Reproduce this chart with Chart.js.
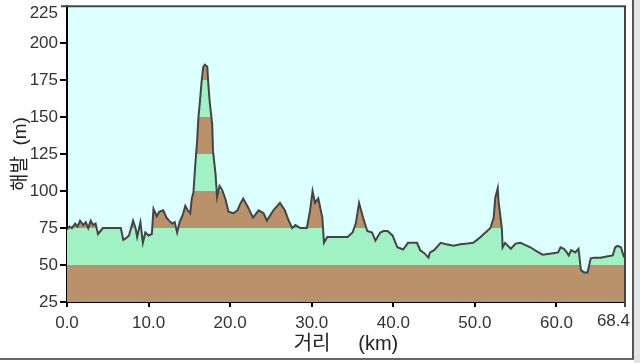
<!DOCTYPE html>
<html>
<head>
<meta charset="utf-8">
<script src="https://cdn.jsdelivr.net/npm/chart.js@4/dist/chart.umd.min.js"></script>
<style>
  body { margin: 0; background: #fff; width: 640px; height: 363px; overflow: hidden; position: relative; }
  .marco { position: absolute; left: 0; top: 0; width: 632px; height: 358px; border-right: 2px solid #555; border-bottom: 2px solid #666; background: #fff; overflow: hidden; }
  .franja { position: absolute; left: 634px; top: 0; width: 6px; height: 363px; background: #e4e4e4; }
  canvas { display: block; margin-top: -6px; }
</style>
</head>
<body>
<div class="marco"><canvas id="perfil" width="632" height="364"></canvas></div>
<div class="franja"></div>
<script>
// distancia (km) y altura (m) del perfil
const distancias = [
  0.0, 0.3, 0.6, 1.0, 1.3, 1.6, 2.0, 2.3, 2.6, 2.9, 3.2, 3.5, 3.8, 4.1, 4.4, 5.0, 5.6, 6.2, 6.6, 6.9,
  7.2, 7.6, 8.1, 8.4, 8.6, 9.0, 9.3, 9.6, 10.0, 10.4, 10.6, 11.0, 11.3, 11.8, 12.2, 12.5, 12.9, 13.2, 13.5, 13.8,
  14.2, 14.5, 14.8, 15.1, 15.3, 15.5, 15.7, 15.95, 16.1, 16.3, 16.5, 16.7, 16.9, 17.2, 17.3, 17.5, 17.8, 17.9, 18.2, 18.4,
  18.7, 19.0, 19.4, 19.8, 20.4, 20.9, 21.2, 21.6, 22.2, 22.8, 23.5, 24.1, 24.5, 25.3, 26.1, 26.7, 27.1, 27.6, 28.0, 28.6,
  29.4, 29.8, 30.1, 30.4, 30.8, 31.3, 31.5, 31.9, 32.6, 33.5, 34.4, 35.0, 35.4, 35.8, 36.3, 36.8, 37.4, 37.8, 38.4, 38.8,
  39.3, 39.9, 40.5, 41.2, 41.8, 42.9, 43.3, 43.8, 44.3, 44.5, 45.0, 45.8, 46.5, 47.4, 48.2, 49.1, 49.8, 50.7, 51.3, 51.9,
  52.3, 52.5, 52.8, 52.9, 53.3, 53.4, 53.7, 54.4, 55.0, 55.6, 56.2, 56.8, 57.5, 58.3, 59.6, 60.2, 60.5, 60.9, 61.2, 61.5,
  61.8, 62.3, 62.7, 63.0, 63.4, 63.8, 64.2, 64.6, 65.4, 66.3, 66.9, 67.2, 67.5, 67.9, 68.2, 68.4
];
const alturas = [
  74, 76, 75, 78, 76, 80, 77, 79, 75, 80, 77, 78, 71, 73, 75, 75, 75, 75, 75, 67,
  68, 70, 80, 75, 69, 79, 65, 72, 70, 71, 88, 83, 86, 87, 82, 80, 78, 79, 72, 79,
  84, 90, 87, 85, 95, 99, 116, 134, 149, 161, 174, 184, 185.5, 184, 174, 160, 145, 127, 112, 96,
  103.5, 101, 95, 86, 85, 87, 91, 95, 89, 82, 87, 85, 80, 87, 92, 87, 81, 75, 77, 75,
  75, 87, 100, 92, 95, 82, 65, 69, 69, 69, 69, 72, 78, 92, 82, 73, 72, 66.5, 72, 73,
  73, 70, 62, 60.5, 65, 65, 60, 58, 55, 58.5, 60, 65, 64, 63, 64, 64.5, 65, 69, 72, 75,
  82, 95.5, 102, 93, 75, 62, 65, 61, 64.5, 65, 63.5, 62, 59.5, 57, 58, 58.5, 62, 61, 59, 56.5,
  60, 58.5, 61, 46.5, 45, 45, 54.5, 55, 55, 56, 56.5, 62, 63, 62, 56.5, 54.5
];

const ticksX = [0, 10, 20, 30, 40, 50, 60, 68.4];
const ticksY = [25, 50, 75, 100, 125, 150, 175, 200, 225];
const bandas = [25, 50, 75, 100, 125, 150, 175, 200, 225];

const cafe = '#b9916a';
const verde = '#a0f1c3';
const fuente = "'Liberation Sans', 'Noto Sans CJK KR', sans-serif";

const puntos = distancias.map((d, i) => ({ x: d, y: alturas[i] }));

// relleno por franjas de 25 m
function rellenoBandas(context) {
  const chart = context.chart;
  const { chartArea, scales } = chart;
  if (!chartArea) return cafe;
  const y = scales.y;
  const abajo = y.getPixelForValue(bandas[0]);
  const arriba = y.getPixelForValue(bandas[bandas.length - 1]);
  const g = chart.ctx.createLinearGradient(0, abajo, 0, arriba);
  for (let i = 0; i < bandas.length - 1; i++) {
    const c = i % 2 === 0 ? cafe : verde;
    const a = (y.getPixelForValue(bandas[i]) - abajo) / (arriba - abajo);
    const b = (y.getPixelForValue(bandas[i + 1]) - abajo) / (arriba - abajo);
    g.addColorStop(a, c);
    g.addColorStop(b, c);
  }
  return g;
}

const marcoPlugin = {
  id: 'marco',
  beforeDraw(chart) {
    const { ctx, chartArea: a } = chart;
    ctx.save();
    ctx.fillStyle = '#dcffff';
    ctx.fillRect(a.left, a.top, a.right - a.left, a.bottom - a.top);
    ctx.restore();
  },
  afterDraw(chart) {
    const { ctx, chartArea: a, scales } = chart;
    ctx.save();
    ctx.strokeStyle = '#444';
    ctx.lineWidth = 2;
    ctx.beginPath();
    ctx.moveTo(a.left - 6, a.top);
    ctx.lineTo(a.right, a.top);
    ctx.lineTo(a.right, a.bottom + 5);
    ctx.stroke();
    ctx.fillStyle = '#333';
    ctx.font = '17px ' + fuente;
    // etiqueta superior del eje y
    ctx.textAlign = 'right';
    ctx.textBaseline = 'middle';
    ctx.fillText('225', a.left - 9, scales.y.getPixelForValue(225) + 7);
    // ultima etiqueta del eje x
    ctx.textAlign = 'right';
    ctx.textBaseline = 'top';
    ctx.fillText('68.4', a.right + 5, a.bottom + 11);
    ctx.restore();
  }
};

new Chart(document.getElementById('perfil'), {
  type: 'line',
  data: {
    datasets: [{
      data: puntos,
      borderColor: '#444',
      borderWidth: 2,
      pointRadius: 0,
      tension: 0,
      fill: 'start',
      backgroundColor: rellenoBandas
    }]
  },
  options: {
    responsive: false,
    animation: false,
    layout: { padding: { top: 5, right: 7, left: 0, bottom: 0 } },
    plugins: { legend: { display: false }, tooltip: { enabled: false } },
    scales: {
      x: {
        type: 'linear',
        min: 0,
        max: 68.4,
        afterBuildTicks: (s) => { s.ticks = ticksX.map(v => ({ value: v })); },
        afterFit: (s) => { s.height = 56; },
        grid: { drawOnChartArea: false, tickLength: 5, color: '#000', lineWidth: 2 },
        border: { color: '#000', width: 2 },
        ticks: {
          maxRotation: 0,
          autoSkip: false,
          padding: 6,
          color: '#333',
          font: { family: fuente, size: 17 },
          callback: (v) => v === 68.4 ? null : v.toFixed(1)
        },
        title: {
          display: true,
          text: '거리     (km)',
          color: '#222',
          font: { family: fuente, size: 20 },
          padding: { top: 0, bottom: 2 }
        }
      },
      y: {
        min: 25,
        max: 225,
        afterBuildTicks: (s) => { s.ticks = ticksY.map(v => ({ value: v })); },
        afterFit: (s) => { s.width = 67; },
        grid: { drawOnChartArea: false, tickLength: 7, color: '#000', lineWidth: 2 },
        border: { color: '#000', width: 2 },
        ticks: {
          padding: 2,
          color: '#333',
          font: { family: fuente, size: 17 },
          callback: (v) => v === 225 ? null : String(v)
        },
        title: {
          display: true,
          text: '해발  (m)',
          color: '#222',
          font: { family: fuente, size: 19 },
          padding: { top: 9, bottom: 0 }
        }
      }
    }
  },
  plugins: [marcoPlugin]
});
</script>
</body>
</html>
